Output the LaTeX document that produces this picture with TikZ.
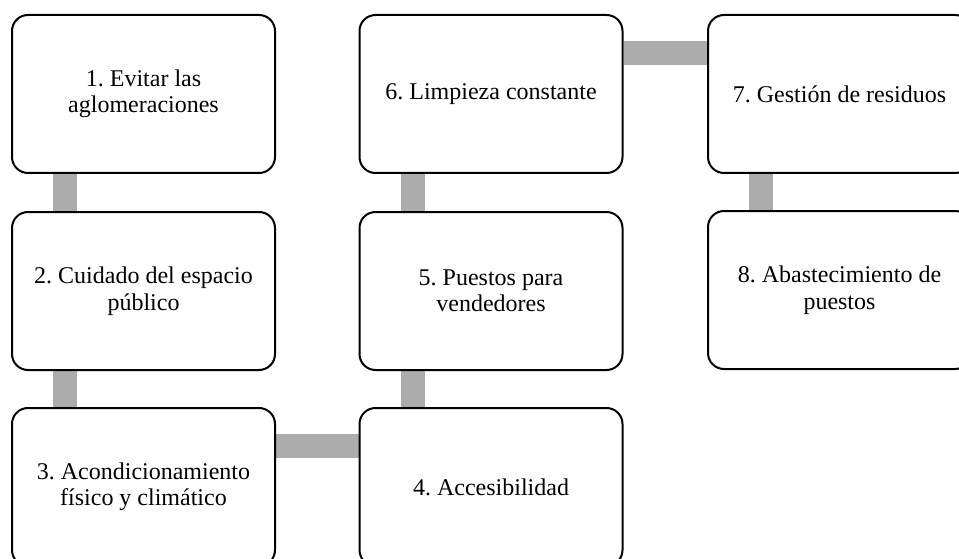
\documentclass[tikz,border=0pt]{standalone}
\usepackage{fontspec}
\setmainfont{Liberation Serif}
\usetikzlibrary{positioning,backgrounds}
\frenchspacing

\begin{document}
\begin{tikzpicture}[x=1pt,y=-1pt]
\tikzstyle{stepbox} = [draw,fill=white,line width=2pt,rounded corners=16pt,minimum width=263pt,minimum height=158pt,align=center,font=\fontsize{24}{26.5}\selectfont]
\tikzstyle{bar} = [draw=gray!65,line width=24pt,line cap=butt]
\useasboundingbox (0,0) rectangle (959,559);
\begin{scope}
\clip (0,0) rectangle (959,559);
\node[stepbox] (b1) at (143.5,94)  {1. Evitar las\\aglomeraciones} ;
\node[stepbox] (b2) at (143.5,291) {2. Cuidado del espacio\\público} ;
\node[stepbox] (b3) at (143.5,487) {3. Acondicionamiento\\físico y climático} ;
\node[stepbox] (b4) at (491,487)   {4. Accesibilidad} ;
\node[stepbox] (b5) at (491,291)   {5. Puestos para\\vendedores} ;
\node[stepbox] (b6) at (491,94)    {6. Limpieza constante} ;
\node[stepbox] (b7) at (839.5,94)  {7. Gestión de residuos} ;
\node[stepbox] (b8) at (839.5,290) {8. Abastecimiento de\\puestos} ;
\begin{pgfonlayer}{background}
\draw[bar] ([xshift=54pt]b1.south west) -- ([xshift=54pt]b2.north west);
\draw[bar] ([xshift=54pt]b2.south west) -- ([xshift=54pt]b3.north west);
\draw[bar] ([yshift=-39pt]b3.north east) -- ([yshift=-39pt]b4.north west);
\draw[bar] ([xshift=54pt]b4.north west) -- ([xshift=54pt]b5.south west);
\draw[bar] ([xshift=54pt]b5.north west) -- ([xshift=54pt]b6.south west);
\draw[bar] ([yshift=-39pt]b6.north east) -- ([yshift=-39pt]b7.north west);
\draw[bar] ([xshift=54pt]b7.south west) -- ([xshift=54pt]b8.north west);
\end{pgfonlayer}
\end{scope}
\end{tikzpicture}
\end{document}
